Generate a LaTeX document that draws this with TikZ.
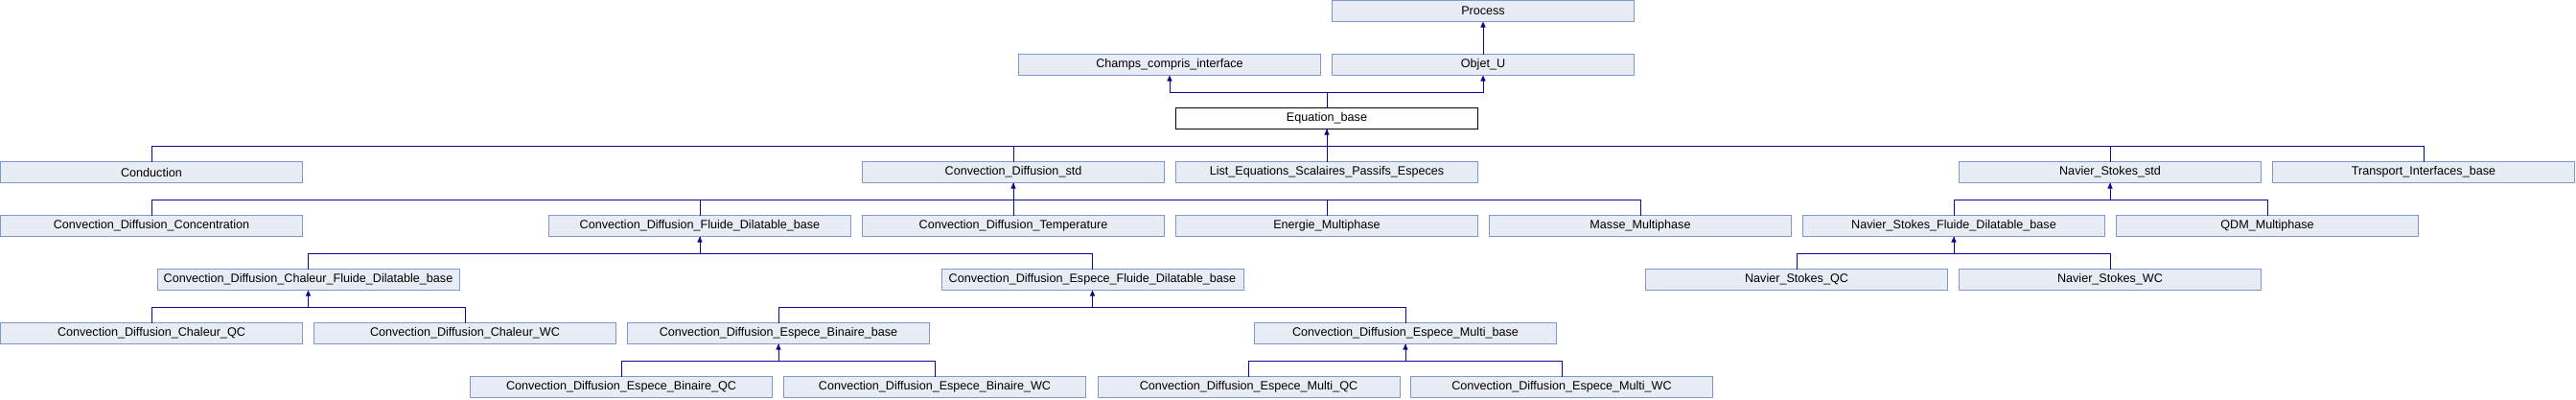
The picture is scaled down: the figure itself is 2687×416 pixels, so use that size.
\documentclass[tikz,border=0pt]{standalone}
\usepackage{fontspec}
\setmainfont{Liberation Sans}
\usetikzlibrary{arrows.meta}
\definecolor{boxfill}{HTML}{E8ECF4}
\definecolor{boxline}{HTML}{8198CF}
\definecolor{conn}{HTML}{0A0A8E}
\tikzset{
  x=1pt,y=1pt,
  box/.style={draw=boxline, fill=boxfill, line width=1pt, anchor=north west,
    minimum width=315pt, minimum height=22pt, inner sep=0pt, outer sep=0pt,
    font=\fontsize{12.6}{14}\selectfont},
  curbox/.style={box, draw=black, fill=white},
  link/.style={draw=conn, line width=1pt},
  inh/.style={link, -{Triangle[width=5pt,length=6pt]}},
}
\newcommand{\bx}[5][box]{\node[#1] (#2) at (#3+0.5,-56*#4-0.5) {#5};}
\begin{document}
\begin{tikzpicture}
\useasboundingbox (0,0) rectangle (2687,-416);
% row 0
\bx{process}{1389}{0}{Process}
% row 1
\bx{champs}{1062}{1}{Champs\_compris\_interface}
\bx{objetu}{1389}{1}{Objet\_U}
% row 2
\bx[curbox]{eqbase}{1226}{2}{Equation\_base}
% row 3
\bx{conduction}{0}{3}{Conduction}
\bx{cdstd}{899}{3}{Convection\_Diffusion\_std}
\bx{listeq}{1226}{3}{List\_Equations\_Scalaires\_Passifs\_Especes}
\bx{nsstd}{2043}{3}{Navier\_Stokes\_std}
\bx{transport}{2370}{3}{Transport\_Interfaces\_base}
% row 4
\bx{cdconc}{0}{4}{Convection\_Diffusion\_Concentration}
\bx{cdfdb}{572}{4}{Convection\_Diffusion\_Fluide\_Dilatable\_base}
\bx{cdtemp}{899}{4}{Convection\_Diffusion\_Temperature}
\bx{energie}{1226}{4}{Energie\_Multiphase}
\bx{masse}{1553}{4}{Masse\_Multiphase}
\bx{nsfdb}{1880}{4}{Navier\_Stokes\_Fluide\_Dilatable\_base}
\bx{qdm}{2207}{4}{QDM\_Multiphase}
% row 5
\bx{chalfdb}{163.5}{5}{Convection\_Diffusion\_Chaleur\_Fluide\_Dilatable\_base}
\bx{espfdb}{981.5}{5}{Convection\_Diffusion\_Espece\_Fluide\_Dilatable\_base}
\bx{nsqc}{1716}{5}{Navier\_Stokes\_QC}
\bx{nswc}{2043}{5}{Navier\_Stokes\_WC}
% row 6
\bx{chalqc}{0}{6}{Convection\_Diffusion\_Chaleur\_QC}
\bx{chalwc}{327}{6}{Convection\_Diffusion\_Chaleur\_WC}
\bx{binbase}{654}{6}{Convection\_Diffusion\_Espece\_Binaire\_base}
\bx{multbase}{1308}{6}{Convection\_Diffusion\_Espece\_Multi\_base}
% row 7
\bx{binqc}{490}{7}{Convection\_Diffusion\_Espece\_Binaire\_QC}
\bx{binwc}{817}{7}{Convection\_Diffusion\_Espece\_Binaire\_WC}
\bx{multqc}{1144.5}{7}{Convection\_Diffusion\_Espece\_Multi\_QC}
\bx{multwc}{1471}{7}{Convection\_Diffusion\_Espece\_Multi\_WC}

% connectors
\draw[inh] (objetu.north) -- (process.south);
\draw[inh] (eqbase.north) -- ++(0,16) -| (champs.south);
\draw[inh] (eqbase.north) -- ++(0,16) -| (objetu.south);
\foreach \c in {conduction,cdstd,listeq,nsstd,transport}
  \draw[link] (\c.north) -- ++(0,16) -| (eqbase.south);
\draw[inh] (listeq.north) -- (eqbase.south);
\foreach \c in {cdconc,cdfdb,cdtemp,energie,masse}
  \draw[link] (\c.north) -- ++(0,16) -| (cdstd.south);
\draw[inh] (cdtemp.north) -- (cdstd.south);
\foreach \c in {nsfdb,qdm}
  \draw[link] (\c.north) -- ++(0,16) -| (nsstd.south);
\draw[inh] (nsfdb.north) ++(0,16) -| (nsstd.south);
\foreach \c in {chalfdb,espfdb}
  \draw[link] (\c.north) -- ++(0,16) -| (cdfdb.south);
\draw[inh] (chalfdb.north) ++(0,16) -| (cdfdb.south);
\foreach \c in {nsqc,nswc}
  \draw[link] (\c.north) -- ++(0,16) -| (nsfdb.south);
\draw[inh] (nsqc.north) ++(0,16) -| (nsfdb.south);
\foreach \c in {chalqc,chalwc}
  \draw[link] (\c.north) -- ++(0,16) -| (chalfdb.south);
\draw[inh] (chalqc.north) ++(0,16) -| (chalfdb.south);
\foreach \c in {binbase,multbase}
  \draw[link] (\c.north) -- ++(0,16) -| (espfdb.south);
\draw[inh] (binbase.north) ++(0,16) -| (espfdb.south);
\foreach \c in {binqc,binwc}
  \draw[link] (\c.north) -- ++(0,16) -| (binbase.south);
\draw[inh] (binqc.north) ++(0,16) -| (binbase.south);
\foreach \c in {multqc,multwc}
  \draw[link] (\c.north) -- ++(0,16) -| (multbase.south);
\draw[inh] (multqc.north) ++(0,16) -| (multbase.south);
\end{tikzpicture}
\end{document}
